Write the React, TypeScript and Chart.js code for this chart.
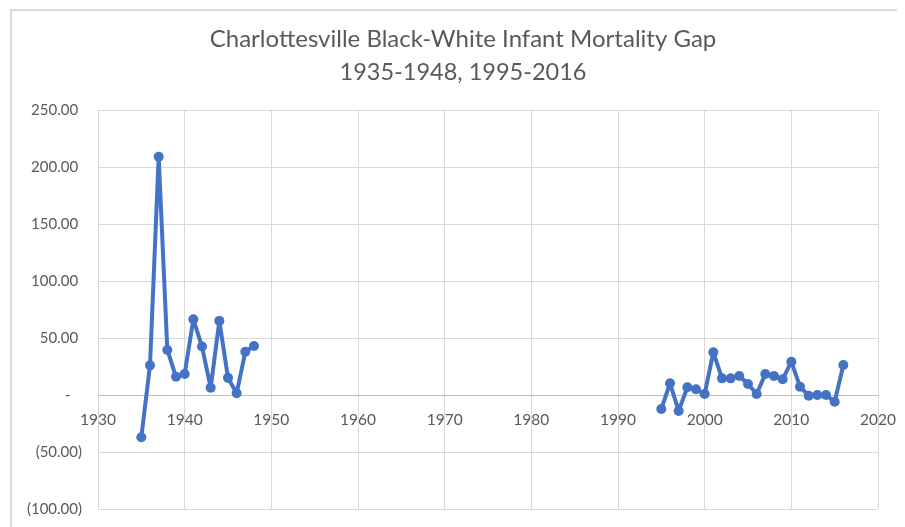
import React, { useEffect, useRef } from "react";
import { Chart, registerables } from "chart.js";

Chart.register(...registerables);

const TITLE_LINES = ["Charlottesville Black-White Infant Mortality Gap", "1935-1948, 1995-2016"];

const years1 = [1935, 1936, 1937, 1938, 1939, 1940, 1941, 1942, 1943, 1944, 1945, 1946, 1947, 1948];
const gap1 = [-37, 26, 209, 39.5, 16, 18.4, 66.5, 42.5, 6.4, 65, 15, 1.5, 38, 43];

const years2 = [1995, 1996, 1997, 1998, 1999, 2000, 2001, 2002, 2003, 2004, 2005, 2006, 2007, 2008, 2009, 2010, 2011, 2012, 2013, 2014, 2015, 2016];
const gap2 = [-12.3, 10.3, -14, 6.8, 5, 0.9, 37.5, 14.6, 14.6, 16.7, 9.6, 0.9, 18.4, 16.7, 13.8, 29.2, 7.3, -0.6, 0, 0, -5.9, 26.3];

const X_MIN = 1930;
const X_MAX = 2020;
const X_STEP = 10;
const Y_MIN = -100;
const Y_MAX = 250;
const Y_STEP = 50;

const LINE_COLOR = "#4472C4";
const TEXT_COLOR = "#595959";
const GRID_COLOR = "#d9d9d9";
const FONT = "Lato, 'Open Sans', sans-serif";

function fmtY(v: number): string {
  if (v === 0) return "-   ";
  if (v < 0) return `(${Math.abs(v).toFixed(2)})`;
  return `${v.toFixed(2)} `;
}

const framePlugin = {
  id: "frameAndTitle",
  beforeDraw(chart: any) {
    const ctx = chart.ctx;
    ctx.save();
    ctx.fillStyle = "#ffffff";
    ctx.fillRect(0, 0, chart.width, chart.height);
    ctx.fillStyle = GRID_COLOR;
    ctx.fillRect(2, 1, chart.width - 2, 2);
    ctx.fillRect(2, 1, 2, chart.height - 1);
    ctx.restore();
  },
  afterDraw(chart: any) {
    const ctx = chart.ctx;
    ctx.save();
    ctx.fillStyle = TEXT_COLOR;
    ctx.textAlign = "center";
    ctx.textBaseline = "alphabetic";
    ctx.font = `24px ${FONT}`;
    ctx.fillText(TITLE_LINES[0], 455, 39);
    ctx.font = `23.5px ${FONT}`;
    ctx.fillText(TITLE_LINES[1], 455, 72);
    ctx.restore();
  },
};

export default function App() {
  const ref = useRef<HTMLCanvasElement | null>(null);

  useEffect(() => {
    if (!ref.current) return;
    const mk = (xs: number[], ys: number[]) => xs.map((x, i) => ({ x, y: ys[i] }));
    const dsStyle = {
      borderColor: LINE_COLOR,
      backgroundColor: LINE_COLOR,
      borderWidth: 4,
      pointRadius: 5,
      pointBorderWidth: 0,
      pointBackgroundColor: LINE_COLOR,
      tension: 0,
      borderJoinStyle: "round" as const,
      borderCapStyle: "round" as const,
    };
    const chart = new Chart(ref.current, {
      type: "line",
      data: {
        datasets: [
          { label: "1935-1948", data: mk(years1, gap1), ...dsStyle },
          { label: "1995-2016", data: mk(years2, gap2), ...dsStyle },
        ],
      },
      options: {
        animation: false,
        responsive: false,
        events: [],
        layout: { padding: { top: 102, bottom: 18, left: 0, right: 27 } },
        plugins: {
          legend: { display: false },
          tooltip: { enabled: false },
          title: { display: false },
        },
        scales: {
          x: {
            type: "linear",
            min: X_MIN,
            max: X_MAX,
            position: { y: 0 } as any,
            ticks: {
              stepSize: X_STEP,
              color: TEXT_COLOR,
              font: { family: FONT, size: 15.5 },
              padding: 16,
              maxRotation: 0,
              callback: (v: any) => String(v),
            },
            grid: { color: GRID_COLOR, lineWidth: 1, drawTicks: false },
            border: { display: true, color: "#bfbfbf", width: 1 },
            afterFit: (scale: any) => {
              scale.paddingLeft = 0;
              scale.paddingRight = 0;
            },
          },
          y: {
            type: "linear",
            min: Y_MIN,
            max: Y_MAX,
            ticks: {
              stepSize: Y_STEP,
              color: TEXT_COLOR,
              font: { family: FONT, size: 15 },
              padding: 16,
              callback: (v: any) => fmtY(Number(v)),
            },
            grid: { color: GRID_COLOR, lineWidth: 1, drawTicks: false },
            border: { display: false },
            afterFit: (scale: any) => {
              scale.width = 90;
              scale.paddingTop = 0;
              scale.paddingBottom = 0;
            },
          },
        },
      },
      plugins: [framePlugin],
    });
    return () => chart.destroy();
  }, []);

  return (
    <div style={{ width: 897, height: 519 }}>
      <canvas ref={ref} width={897} height={519} style={{ display: "block", width: 897, height: 519 }} />
    </div>
  );
}
